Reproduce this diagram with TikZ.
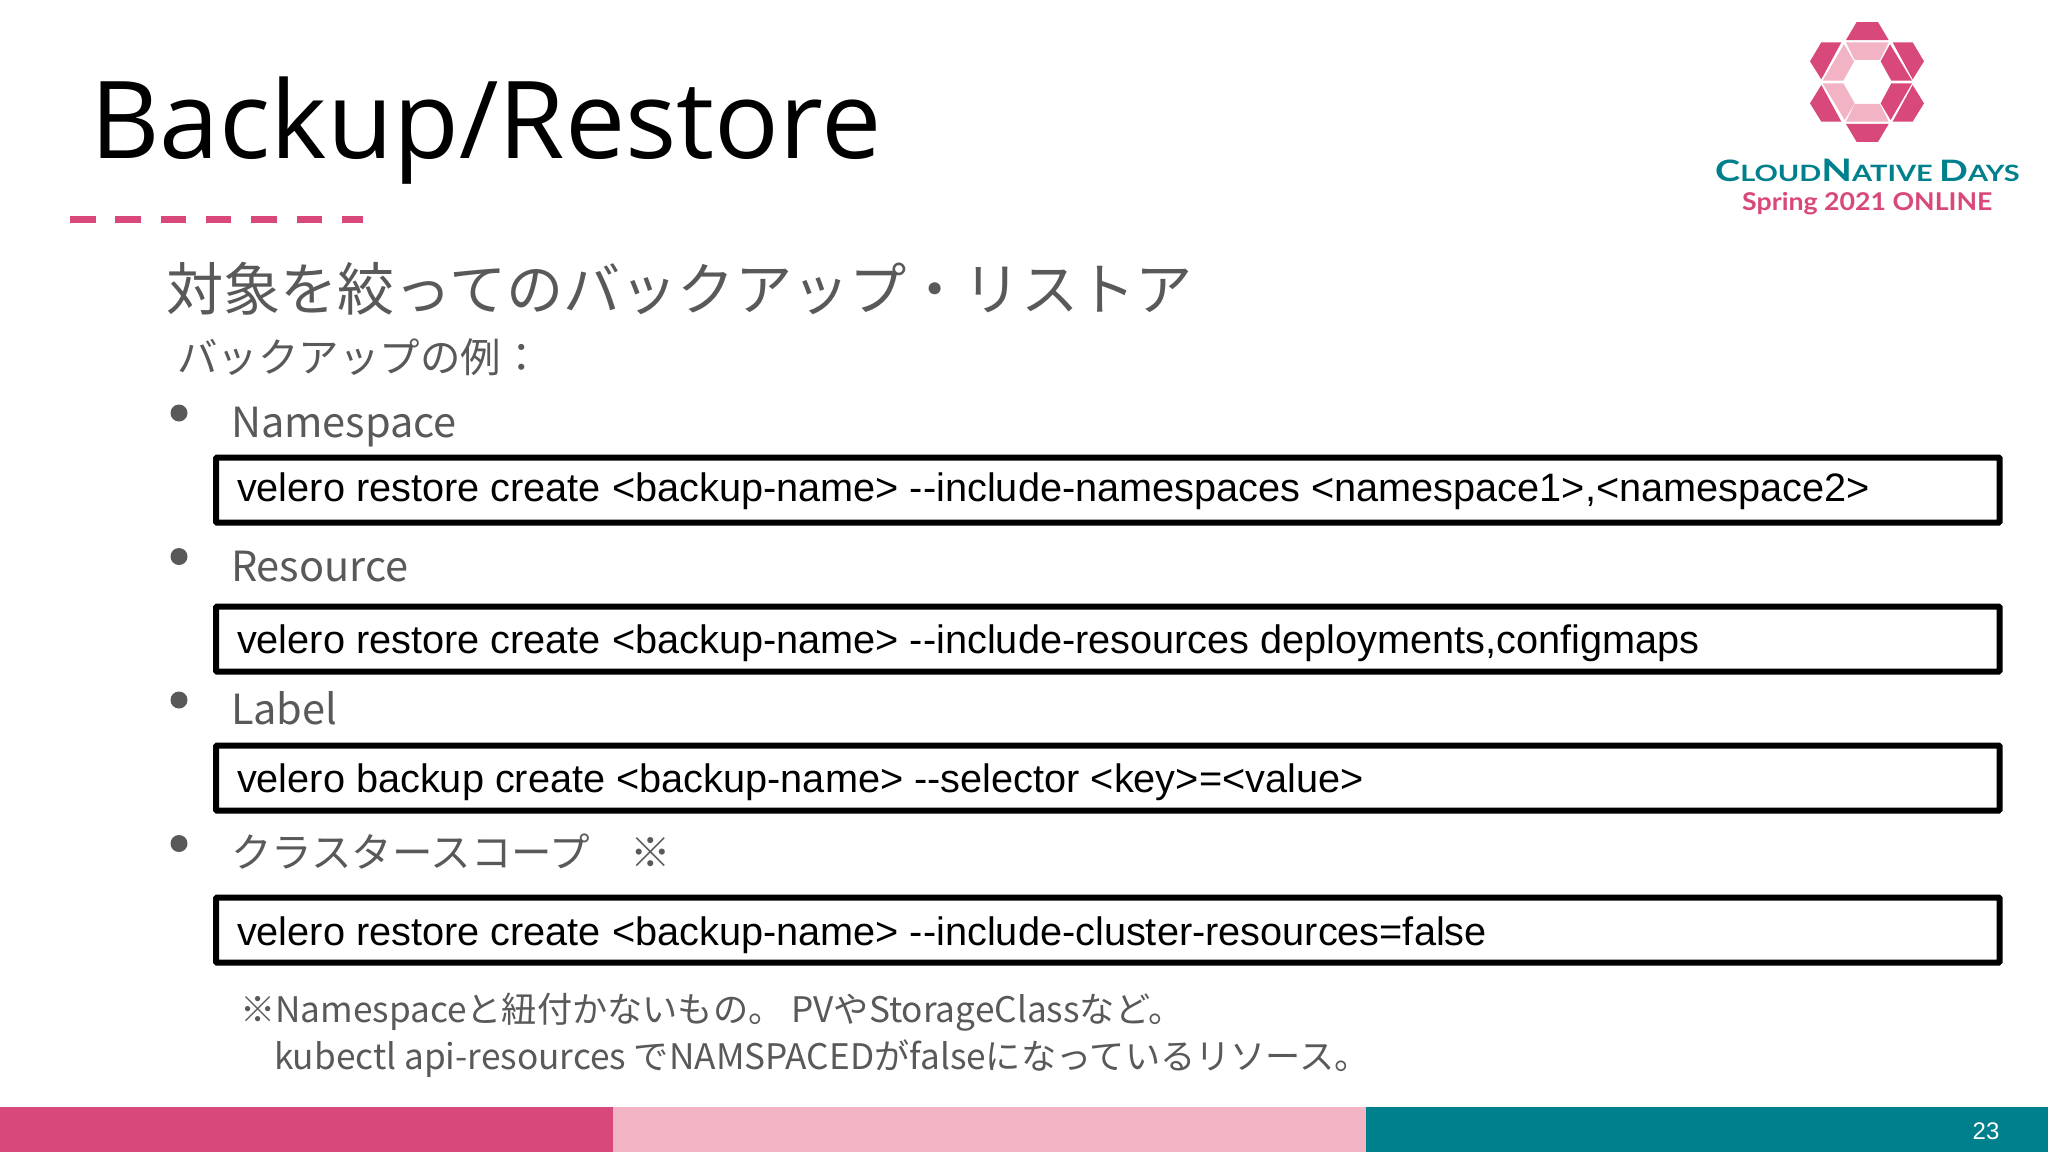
\documentclass[tikz,border=0pt]{standalone}
\usepackage{fontspec}
\setmainfont{Noto Sans CJK JP}
\newfontfamily\titlefont{Open Sans}
\newfontfamily\cmdfont{Liberation Sans}
\newfontfamily\logofont{Lato}
\definecolor{pinkdark}{HTML}{D9487A}
\definecolor{pinklight}{HTML}{F2B3C4}
\definecolor{tealbar}{HTML}{00808C}
\definecolor{greytext}{HTML}{595959}
\newcommand{\fs}[1]{\fontsize{#1pt}{#1pt}\selectfont}
\tikzset{
  txt/.style={anchor=base west,inner sep=0pt,outer sep=0pt,text=greytext},
  cmdbox/.style={draw=black,line width=6pt,fill=white,rounded corners=1pt,anchor=north west,inner sep=0pt,minimum width=1783.5pt,minimum height=65pt},
  cmdtxt/.style={anchor=base west,inner sep=0pt,outer sep=0pt,text=black,font=\cmdfont\fs{39.7}},
  bulletdot/.style={circle,fill=greytext,inner sep=0pt,minimum size=17pt},
  logodark/.style={fill=pinkdark},
  logolight/.style={fill=pinklight}
}
\begin{document}
\begin{tikzpicture}[x=1pt,y=-1pt]
\useasboundingbox (0,0) rectangle (2048,1152);
\fill[white] (0,0) rectangle (2048,1152);
% footer
\fill[pinkdark] (0,1107) rectangle (613,1152);
\fill[pinklight] (613,1107) rectangle (1366,1152);
\fill[tealbar] (1366,1107) rectangle (2048,1152);
\node[anchor=center,inner sep=0pt,text=white,font=\cmdfont\fs{24}] (pagenum) at (1986,1131) {23};
% title
\node[anchor=base west,inner sep=0pt,text=black,font=\titlefont\fs{107.5}] (title) at (90,158) {Backup/Restore};
\draw[pinkdark,line width=7pt,dash pattern=on 25.5pt off 19.8pt] (70,219) -- (362.5,219);
% headings
\node[txt,font=\fs{57.2}] (head) at (166,310) {対象を絞ってのバックアップ・リストア};
\node[txt,font=\fs{40.5}] (sub) at (177,372) {バックアップの例：};
% bullets
\node[bulletdot] (b1) at (179,413) {};
\node[bulletdot] (b2) at (179,556.5) {};
\node[bulletdot] (b3) at (179,700) {};
\node[bulletdot] (b4) at (179,843.5) {};
\node[txt,font=\fs{41.5}] (t1) at (231,437.5) {Namespace};
\node[txt,font=\fs{41.5}] (t2) at (231,581) {Resource};
\node[txt,font=\fs{41.5}] (t3) at (231,724) {Label};
\node[txt,font=\fs{40.5}] (t4) at (231,867) {クラスタースコープ　※};
% command boxes
\node[cmdbox] (c1) at (213,454.5) {};
\node[cmdbox] (c2) at (213,603.5) {};
\node[cmdbox] (c3) at (213,742.5) {};
\node[cmdbox] (c4) at (213,894.5) {};
\node[cmdtxt] (ct1) at (237,501) {velero restore create <backup-name> --include-namespaces <namespace1>,<namespace2>};
\node[cmdtxt] (ct2) at (237,653.5) {velero restore create <backup-name> --include-resources deployments,configmaps};
\node[cmdtxt] (ct3) at (237,792) {velero backup create <backup-name> --selector <key>=<value>};
\node[cmdtxt] (ct4) at (237,945) {velero restore create <backup-name> --include-cluster-resources=false};
% notes
\node[txt,font=\fs{35.2}] (n1) at (240,1022) {※Namespaceと紐付かないもの。 PVやStorageClassなど。};
\node[txt,font=\fs{35.2}] (n2) at (274,1069) {kubectl api-resources でNAMSPACEDがfalseになっているリソース。};
% logo
\begin{scope}[shift={(1680,0)},x=0.3333pt,y=-0.3333pt]
\fill[logodark] (498,120)--(530,66)--(594,66)--(626,120)--cycle;
\fill[logodark] (484,127)--(424,127)--(390,184)--(424,238)--cycle;
\fill[logodark] (638,127)--(698,127)--(732,184)--(698,238)--cycle;
\fill[logodark] (424,255)--(484,365)--(424,365)--(390,310)--cycle;
\fill[logodark] (698,255)--(732,310)--(698,365)--(638,365)--cycle;
\fill[logodark] (498,372)--(626,372)--(594,426)--(530,426)--cycle;
\fill[logolight] (498,127)--(626,127)--(600,180)--(524,180)--cycle;
\fill[logolight] (492,133)--(522,184)--(490,242)--(428,242)--cycle;
\fill[logolight] (428,250)--(490,250)--(524,310)--(494,360)--cycle;
\fill[logolight] (524,312)--(600,312)--(626,365)--(498,365)--cycle;
\fill[logodark] (630,133)--(696,242)--(634,242)--(602,184)--cycle;
\fill[logodark] (634,250)--(696,250)--(632,360)--(602,310)--cycle;
\end{scope}
\node[anchor=base west,inner sep=0pt,text=tealbar,font=\logofont\bfseries] (logo1) at (1715,181.5) {\scalebox{1.285}[1]{{\fs{29.5}C}{\fs{22.5}LOUD}{\fs{31}N}{\fs{22.5}ATIVE}\kern 5pt{\fs{29.5}D}{\fs{22.5}AYS}}};
\node[anchor=base west,inner sep=0pt,text=pinkdark,font=\logofont\bfseries\fs{24.5}] (logo2) at (1742,210) {\scalebox{1.09}[1]{Spring 2021 ONLINE}};
\end{tikzpicture}
\end{document}
